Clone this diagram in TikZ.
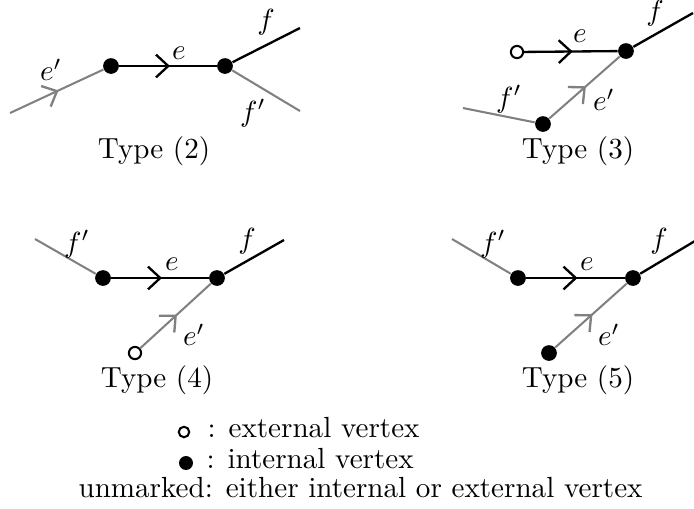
\documentclass[tikz,border=0pt]{standalone}
\usetikzlibrary{arrows.meta,decorations.markings}
\begin{document}
\begin{tikzpicture}[x=0.3436pt,y=-0.3436pt,
  blk/.style={draw=black,line width=0.8pt},
  gry/.style={draw=gray,line width=0.7pt},
  mid/.style={postaction={decorate},decoration={markings,
     mark=at position 0.52 with {\arrow{Straight Barb[length=4.2pt,width=7.8pt,line width=0.8pt]}}}},
  fv/.style={circle,fill=black,inner sep=0pt,minimum size=5.4pt},
  ov/.style={circle,draw=black,fill=white,line width=0.7pt,inner sep=0pt,minimum size=4.2pt},
  lab/.style={inner sep=0pt},
  typ/.style={anchor=base,inner sep=0pt}]
\useasboundingbox (0,0) rectangle (694,508);

% ---------- Type (2)
\node[fv] (a2) at (111,66) {};
\node[fv] (b2) at (225,66) {};
\coordinate (s2) at (10,113);
\coordinate (f2) at (300,28);
\coordinate (g2) at (300,111);
\draw[gry,mid] (s2) -- (a2);
\draw[blk,mid] (a2) -- (b2);
\draw[blk] (b2) -- (f2);
\draw[gry] (b2) -- (g2);
\node[lab] (le2) at (51,70) {$e'$};
\node[lab] (lf2) at (179,53) {$e$};
\node[lab] (lff2) at (266,22) {$f$};
\node[lab] (lg2) at (253,113) {$f'$};
\node[typ] (t2) at (154,158) {Type (2)};

% ---------- Type (3)
\node[ov] (a3) at (517,52) {};
\node[fv] (b3) at (626,51) {};
\node[fv] (c3) at (543,124) {};
\coordinate (f3) at (693,13);
\coordinate (g3) at (463,108);
\draw[blk,mid] (a3) -- (b3);
\draw[blk] (b3) -- (f3);
\draw[gry,mid] (c3) -- (b3);
\draw[gry] (c3) -- (g3);
\node[lab] (le3) at (580,36) {$e$};
\node[lab] (lf3) at (655,13) {$f$};
\node[lab] (lg3) at (509,99) {$f'$};
\node[lab] (lh3) at (604,100) {$e'$};
\node[typ] (t3) at (578,158) {Type (3)};

% ---------- Type (4)
\node[fv] (a4) at (103,278) {};
\node[fv] (b4) at (217,278) {};
\node[ov] (c4) at (135,353) {};
\coordinate (f4) at (284,240);
\coordinate (g4) at (35,239);
\draw[gry] (g4) -- (a4);
\draw[blk,mid] (a4) -- (b4);
\draw[blk] (b4) -- (f4);
\draw[gry,mid] (c4) -- (b4);
\node[lab] (lg4) at (77,244) {$f'$};
\node[lab] (le4) at (172,264) {$e$};
\node[lab] (lf4) at (247,241) {$f$};
\node[lab] (lh4) at (194,335) {$e'$};
\node[typ] (t4) at (157,387) {Type (4)};

% ---------- Type (5)
\node[fv] (a5) at (518,278) {};
\node[fv] (b5) at (633,278) {};
\node[fv] (c5) at (549,353) {};
\coordinate (f5) at (700,238);
\coordinate (g5) at (452,239);
\draw[gry] (g5) -- (a5);
\draw[blk,mid] (a5) -- (b5);
\draw[blk] (b5) -- (f5);
\draw[gry,mid] (c5) -- (b5);
\node[lab] (lg5) at (493,244) {$f'$};
\node[lab] (le5) at (587,264) {$e$};
\node[lab] (lf5) at (659,241) {$f$};
\node[lab] (lh5) at (609,335) {$e'$};
\node[typ] (t5) at (578,387) {Type (5)};

% ---------- legend
\node[ov,minimum size=3.6pt] (k1) at (184,432) {};
\node[fv,minimum size=4.8pt] (k2) at (186,463) {};
\node[anchor=base west,inner sep=0pt] (k1t) at (207,437) {: external vertex};
\node[anchor=base west,inner sep=0pt] (k2t) at (206,468) {: internal vertex};
\node[anchor=base west,inner sep=0pt] (k3t) at (78,497) {unmarked: either internal or external vertex};
\end{tikzpicture}
\end{document}
